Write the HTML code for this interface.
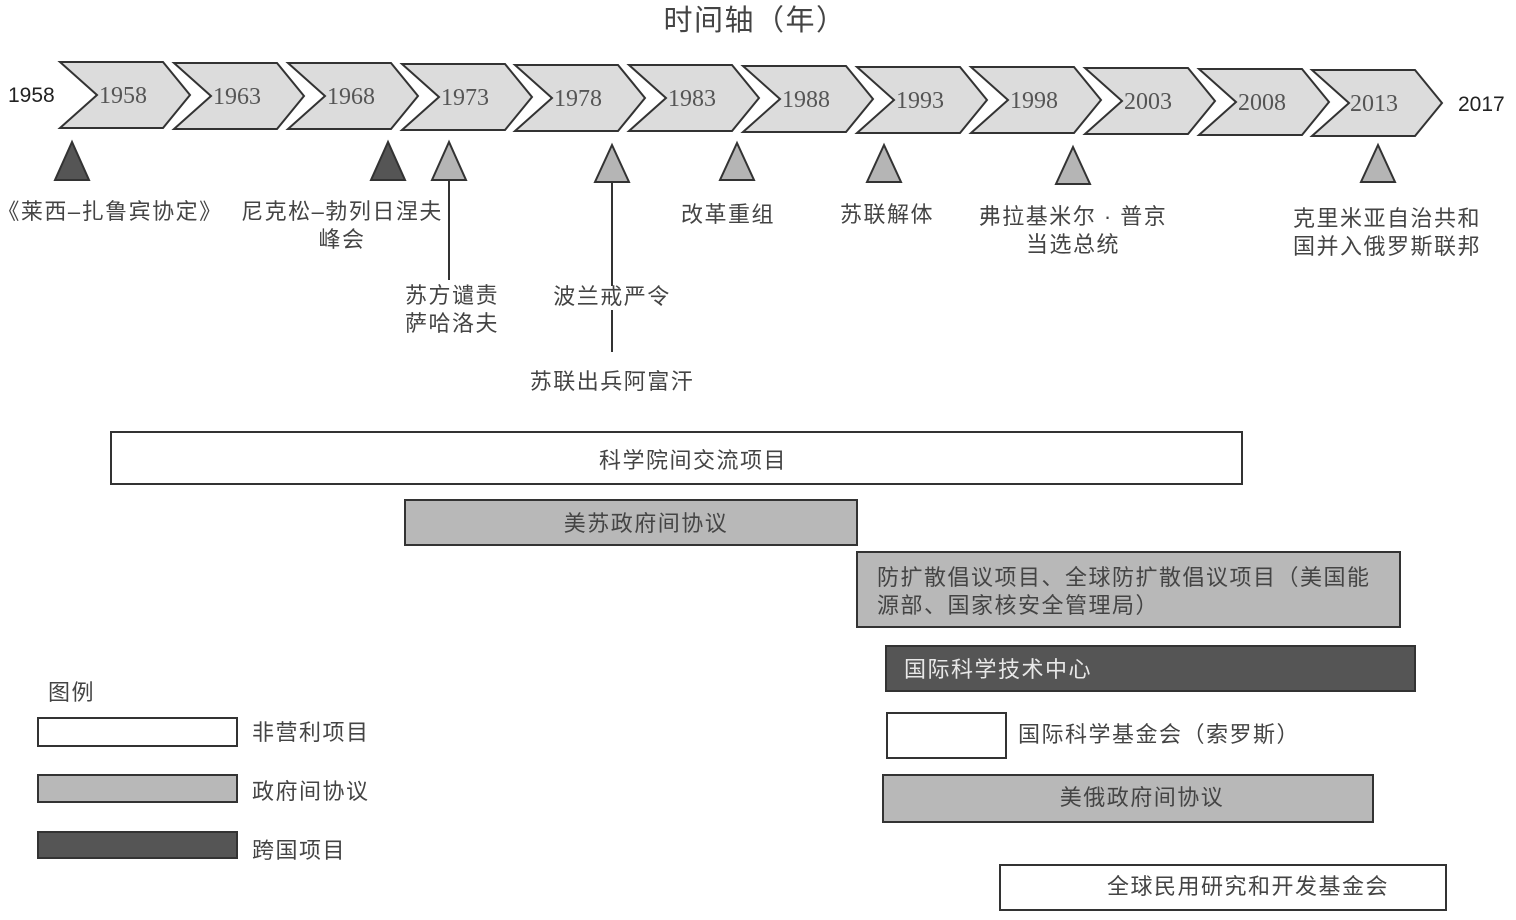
<!DOCTYPE html>
<html><head><meta charset="utf-8"><style>
html,body{margin:0;padding:0;background:#fff;}
svg{display:block;}
.cn{font-family:"Liberation Sans","Noto Sans CJK SC",sans-serif;font-size:22px;letter-spacing:1.5px;fill:#444;}
.yr{font-family:"Liberation Serif",serif;font-size:24px;fill:#555;}
.ax{font-family:"Liberation Sans",sans-serif;font-size:21px;fill:#222;}
</style></head><body>
<svg width="1516" height="920" viewBox="0 0 1516 920" xmlns="http://www.w3.org/2000/svg">
<text x="755" y="30" text-anchor="middle" class="cn" style="font-size:29px">时间轴（年）</text>
<g stroke="#333" stroke-width="2" fill="#dcdcdc">
<polygon points="60,62 163,62 190,95 163,128 60,128 97,95"/>
<polygon points="174,63 277,63 304,96 277,129 174,129 211,96"/>
<polygon points="288,63 391,63 418,96 391,129 288,129 325,96"/>
<polygon points="402,64 505,64 532,97 505,130 402,130 439,97"/>
<polygon points="515,65 618,65 645,98 618,131 515,131 552,98"/>
<polygon points="629,65 732,65 759,98 732,131 629,131 666,98"/>
<polygon points="743,66 846,66 873,99 846,132 743,132 780,99"/>
<polygon points="857,67 960,67 987,100 960,133 857,133 894,100"/>
<polygon points="971,67 1074,67 1101,100 1074,133 971,133 1008,100"/>
<polygon points="1085,68 1188,68 1215,101 1188,134 1085,134 1122,101"/>
<polygon points="1199,69 1302,69 1329,102 1302,135 1199,135 1236,102"/>
<polygon points="1312,70 1415,70 1442,103 1415,136 1312,136 1349,103"/>
</g>
<g class="yr">
<text x="99" y="103">1958</text><text x="213" y="104">1963</text><text x="327" y="104">1968</text>
<text x="441" y="105">1973</text><text x="554" y="106">1978</text><text x="668" y="106">1983</text>
<text x="782" y="107">1988</text><text x="896" y="108">1993</text><text x="1010" y="108">1998</text>
<text x="1124" y="109">2003</text><text x="1238" y="110">2008</text><text x="1350" y="111">2013</text>
</g>
<text x="8" y="102" class="ax">1958</text>
<text x="1458" y="111" class="ax">2017</text>
<g stroke="#333" stroke-width="2">
<polygon points="72,142 55,180 89,180" fill="#555"/>
<polygon points="388,142 371,180 405,180" fill="#555"/>
<polygon points="449,142 432,180 466,180" fill="#b5b5b5"/>
<polygon points="612,145 595,182 629,182" fill="#b5b5b5"/>
<polygon points="737,143 720,180 754,180" fill="#b5b5b5"/>
<polygon points="884,145 867,182 901,182" fill="#b5b5b5"/>
<polygon points="1073,147 1056,184 1090,184" fill="#b5b5b5"/>
<polygon points="1378,145 1361,182 1395,182" fill="#b5b5b5"/>
<line x1="449" y1="180" x2="449" y2="280"/>
<line x1="612" y1="182" x2="612" y2="286"/>
<line x1="612" y1="310" x2="612" y2="352"/>
</g>
<g class="cn" text-anchor="middle">
<text x="110" y="219">《莱西–扎鲁宾协定》</text>
<text x="342" y="219">尼克松–勃列日涅夫</text>
<text x="342" y="247">峰会</text>
<text x="452" y="303">苏方谴责</text>
<text x="452" y="331">萨哈洛夫</text>
<text x="612" y="304">波兰戒严令</text>
<text x="612" y="389">苏联出兵阿富汗</text>
<text x="728" y="222">改革重组</text>
<text x="887" y="222">苏联解体</text>
<text x="1073" y="224">弗拉基米尔 · 普京</text>
<text x="1073" y="252">当选总统</text>
<text x="1387" y="226">克里米亚自治共和</text>
<text x="1387" y="254">国并入俄罗斯联邦</text>
</g>
<g stroke="#333" stroke-width="2">
<rect x="111" y="432" width="1131" height="52" fill="#fff"/>
<rect x="405" y="500" width="452" height="45" fill="#b8b8b8"/>
<rect x="857" y="552" width="543" height="75" fill="#b8b8b8"/>
<rect x="886" y="646" width="529" height="45" fill="#555"/>
<rect x="887" y="713" width="119" height="45" fill="#fff"/>
<rect x="883" y="775" width="490" height="47" fill="#b8b8b8"/>
<rect x="1000" y="865" width="446" height="45" fill="#fff"/>
<rect x="38" y="718" width="199" height="28" fill="#fff"/>
<rect x="38" y="775" width="199" height="27" fill="#b8b8b8"/>
<rect x="38" y="832" width="199" height="26" fill="#555"/>
</g>
<g class="cn">
<text x="693" y="468" text-anchor="middle">科学院间交流项目</text>
<text x="646" y="531" text-anchor="middle">美苏政府间协议</text>
<text x="877" y="585">防扩散倡议项目、全球防扩散倡议项目（美国能</text>
<text x="877" y="613">源部、国家核安全管理局）</text>
<text x="904" y="677" style="fill:#e8e8e8">国际科学技术中心</text>
<text x="1018" y="742">国际科学基金会（索罗斯）</text>
<text x="1142" y="805" text-anchor="middle">美俄政府间协议</text>
<text x="1248" y="894" text-anchor="middle">全球民用研究和开发基金会</text>
<text x="48" y="700">图例</text>
<text x="252" y="740">非营利项目</text>
<text x="252" y="799">政府间协议</text>
<text x="252" y="858">跨国项目</text>
</g>
</svg>
</body></html>
